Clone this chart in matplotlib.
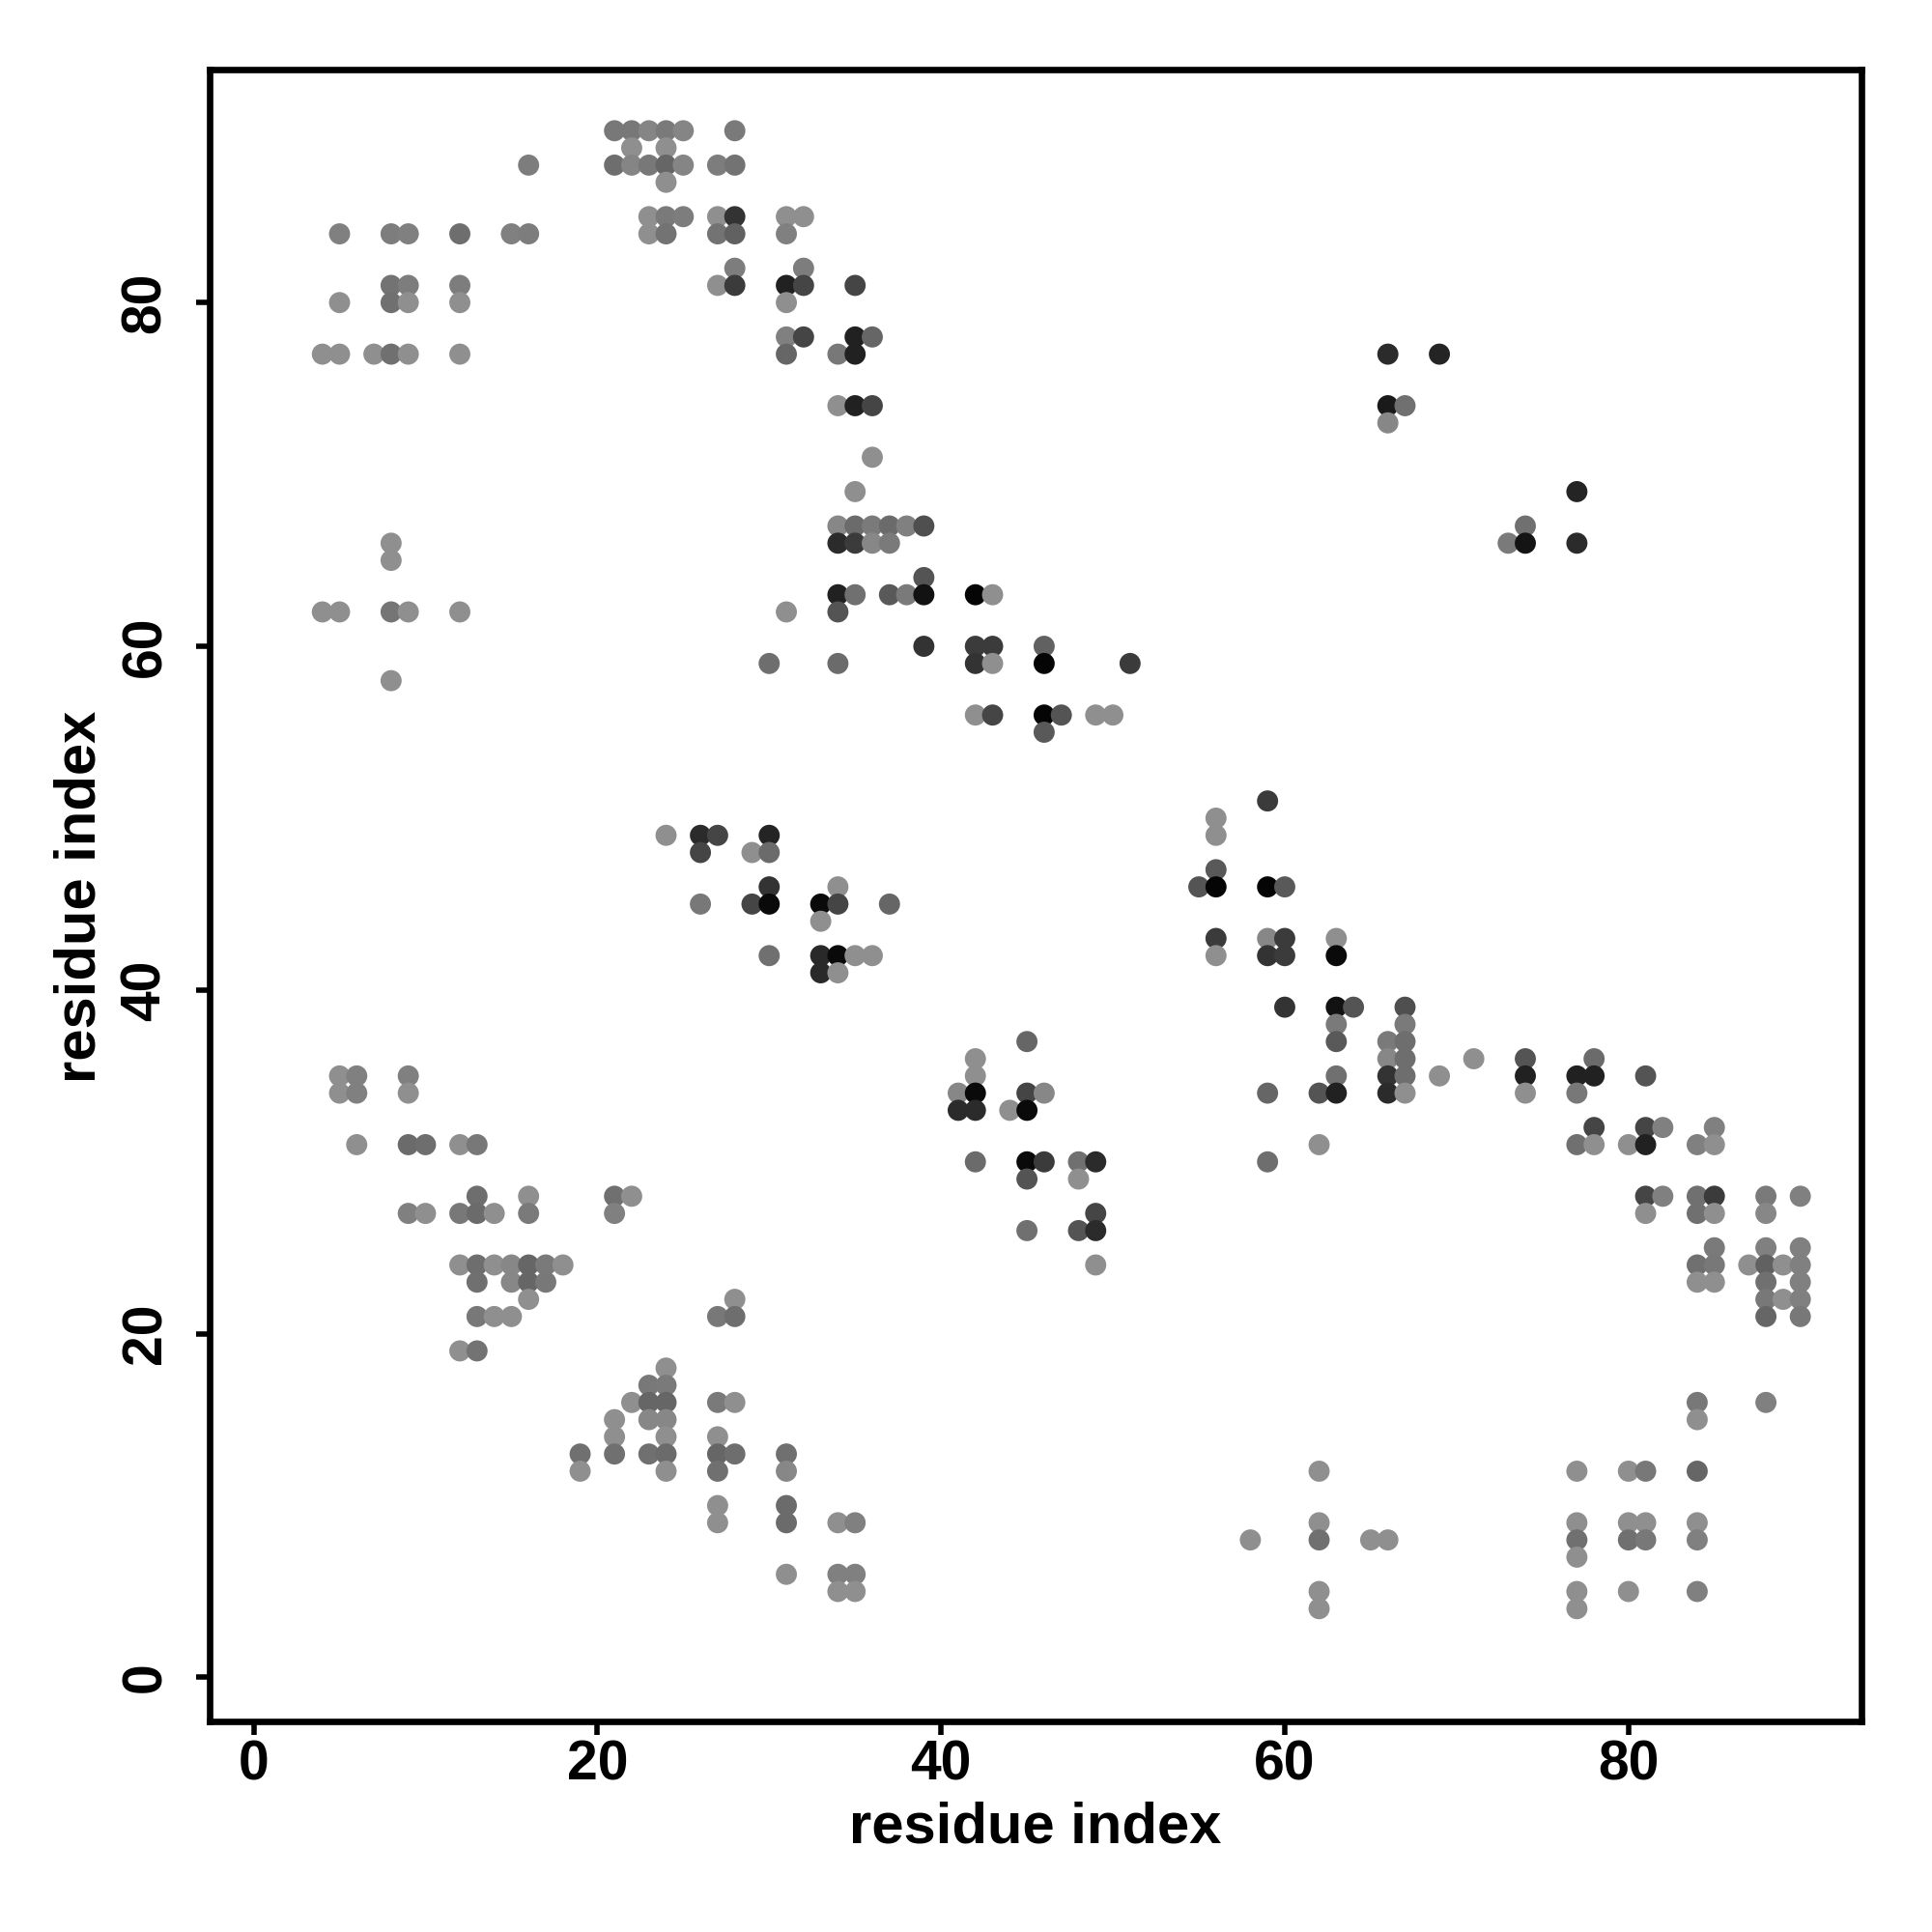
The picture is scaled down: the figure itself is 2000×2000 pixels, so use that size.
import matplotlib.pyplot as plt

# residue contact map: for each row (residue j) the partner residues i and their grey level
row_y = [90, 89, 88, 87, 85, 84, 82, 81, 80, 78, 77, 74, 73, 71, 69, 67, 66, 65, 64, 63,
         62, 60, 59, 58, 56, 55, 51, 50, 49, 48, 47, 46, 45, 44, 43, 42, 41, 39, 38, 37,
         36, 35, 34, 33, 32, 31, 30, 29, 28, 27, 26, 25, 24, 23, 22, 21, 19, 18, 17, 16,
         15, 14, 13, 12, 10, 9, 8, 7, 6, 5, 4]

row_x = [
    [21, 22, 23, 24, 25, 28],
    [22, 24],
    [16, 21, 22, 23, 24, 25, 27, 28],
    [24],
    [23, 24, 25, 27, 28, 31, 32],
    [5, 8, 9, 12, 15, 16, 23, 24, 27, 28, 31],
    [28, 32],
    [8, 9, 12, 27, 28, 31, 32, 35],
    [5, 8, 9, 12, 31],
    [31, 32, 35, 36],
    [4, 5, 7, 8, 9, 12, 31, 34, 35, 66, 69],
    [34, 35, 36, 66, 67],
    [66],
    [36],
    [35, 77],
    [34, 35, 36, 37, 38, 39, 74],
    [8, 34, 35, 36, 37, 73, 74, 77],
    [8],
    [39],
    [34, 35, 37, 38, 39, 42, 43],
    [4, 5, 8, 9, 12, 31, 34],
    [39, 42, 43, 46],
    [30, 34, 42, 43, 46, 51],
    [8],
    [42, 43, 46, 47, 49, 50],
    [46],
    [59],
    [56],
    [24, 26, 27, 30, 56],
    [26, 29, 30],
    [56],
    [30, 34, 55, 56, 59, 60],
    [26, 29, 30, 33, 34, 37],
    [33],
    [56, 59, 60, 63],
    [30, 33, 34, 35, 36, 56, 59, 60, 63],
    [33, 34],
    [60, 63, 64, 67],
    [63, 67],
    [45, 63, 66, 67],
    [42, 66, 67, 71, 74, 78],
    [5, 6, 9, 42, 63, 66, 67, 69, 74, 77, 78, 81],
    [5, 6, 9, 41, 42, 45, 46, 59, 62, 63, 66, 67, 74, 77],
    [41, 42, 44, 45],
    [78, 81, 82, 85],
    [6, 9, 10, 12, 13, 62, 77, 78, 80, 81, 84, 85],
    [42, 45, 46, 48, 49, 59],
    [45, 48],
    [13, 16, 21, 22, 81, 82, 84, 85, 88, 90],
    [9, 10, 12, 13, 14, 16, 21, 49, 81, 84, 85, 88],
    [45, 48, 49],
    [85, 88, 90],
    [12, 13, 14, 15, 16, 17, 18, 49, 84, 85, 87, 88, 89, 90],
    [13, 15, 16, 17, 84, 85, 88, 90],
    [16, 28, 88, 89, 90],
    [13, 14, 15, 27, 28, 88, 90],
    [12, 13],
    [24],
    [23, 24],
    [22, 23, 24, 27, 28, 84, 88],
    [21, 23, 24, 84],
    [21, 24, 27],
    [19, 21, 23, 24, 27, 28, 31],
    [19, 24, 27, 31, 62, 77, 80, 81, 84],
    [27, 31],
    [27, 31, 34, 35, 62, 77, 80, 81, 84],
    [58, 62, 65, 66, 77, 80, 81, 84],
    [77],
    [31, 34, 35],
    [34, 35, 62, 77, 80, 84],
    [62, 77],
]

# grey level of each contact (0 = black, 1 = white)
row_grey = [
    [.47, .47, .52, .48, .52, .48],
    [.56, .56],
    [.49, .43, .52, .47, .40, .52, .49, .45],
    [.56],
    [.56, .48, .49, .56, .20, .56, .56],
    [.50, .49, .50, .43, .50, .49, .56, .45, .45, .38, .50],
    [.49, .49],
    [.45, .49, .49, .56, .23, .13, .27, .27],
    [.56, .44, .56, .56, .56],
    [.50, .27, .13, .40],
    [.56, .56, .56, .44, .56, .56, .40, .47, .13, .17, .14],
    [.56, .13, .27, .10, .44],
    [.53],
    [.56],
    [.56, .14],
    [.53, .42, .48, .42, .50, .31, .44],
    [.56, .17, .23, .53, .48, .48, .08, .17],
    [.56],
    [.33],
    [.13, .44, .35, .48, .07, .02, .56],
    [.56, .56, .46, .56, .56, .56, .33],
    [.20, .23, .23, .38],
    [.43, .42, .20, .56, .02, .23],
    [.56],
    [.56, .27, .02, .33, .56, .56],
    [.35],
    [.23],
    [.56],
    [.56, .17, .27, .14, .56],
    [.27, .56, .42],
    [.35],
    [.20, .56, .33, .02, .02, .35],
    [.47, .27, .04, .04, .27, .40],
    [.56],
    [.23, .53, .23, .56],
    [.44, .16, .04, .56, .56, .56, .20, .23, .04],
    [.16, .56],
    [.20, .07, .33, .31],
    [.48, .48],
    [.40, .35, .48, .43],
    [.56, .53, .43, .56, .33, .42],
    [.56, .50, .50, .56, .44, .20, .43, .56, .13, .13, .13, .33],
    [.56, .50, .56, .53, .04, .27, .53, .40, .33, .13, .17, .56, .56, .47],
    [.17, .17, .56, .04],
    [.27, .27, .50, .50],
    [.56, .42, .43, .56, .47, .56, .44, .56, .56, .13, .50, .56],
    [.42, .04, .23, .44, .17, .43],
    [.33, .56],
    [.43, .56, .44, .56, .27, .50, .44, .23, .48, .50],
    [.50, .56, .47, .42, .56, .48, .50, .27, .56, .44, .56, .53],
    [.44, .33, .17],
    [.48, .50, .50],
    [.56, .43, .56, .53, .40, .48, .56, .56, .44, .47, .56, .38, .56, .50],
    [.44, .53, .40, .47, .56, .56, .44, .50],
    [.56, .56, .47, .56, .50],
    [.47, .56, .56, .47, .43, .40, .47],
    [.56, .45],
    [.56],
    [.47, .48],
    [.56, .40, .40, .48, .56, .47, .50],
    [.56, .53, .53, .56],
    [.56, .56, .56],
    [.44, .44, .44, .42, .40, .43, .44],
    [.56, .56, .44, .53, .56, .56, .56, .47, .40],
    [.56, .42],
    [.56, .42, .56, .50, .56, .56, .56, .56, .56],
    [.56, .44, .56, .56, .44, .44, .47, .50],
    [.56],
    [.56, .50, .50],
    [.56, .56, .56, .56, .56, .50],
    [.56, .56],
]

xs = []
ys = []
cols = []
for y, xrow, grow in zip(row_y, row_x, row_grey):
    for x, g in zip(xrow, grow):
        xs.append(x)
        ys.append(y)
        cols.append(str(g))

plt.rcParams['font.family'] = ['Liberation Sans', 'DejaVu Sans']

fig = plt.figure(figsize=(10, 10), dpi=200)
ax = fig.add_axes([0.1085, 0.109, 0.855, 0.855])
ax.scatter(xs, ys, s=62, c=cols, linewidths=0)

ax.set_xlim(-2.56, 93.56)
ax.set_ylim(-2.56, 93.56)
ax.set_xticks([0, 20, 40, 60, 80])
ax.set_yticks([0, 20, 40, 60, 80])
for sp in ax.spines.values():
    sp.set_linewidth(2.4)
ax.tick_params(length=5, width=2.0, labelsize=20.5)
ax.tick_params(axis='x', pad=1.5)
ax.tick_params(axis='y', pad=9)
for lab in ax.get_xticklabels():
    lab.set_fontweight('bold')
for lab in ax.get_yticklabels():
    lab.set_fontweight('bold')
    lab.set_rotation(90)
    lab.set_va('center')

fig.text(0.536, 0.054, 'residue index', ha='center', va='center', fontsize=21.5, fontweight='bold')
fig.text(0.0415, 0.536, 'residue index', ha='center', va='center', rotation=90,
         fontsize=21.5, fontweight='bold')

plt.savefig('out.png')
